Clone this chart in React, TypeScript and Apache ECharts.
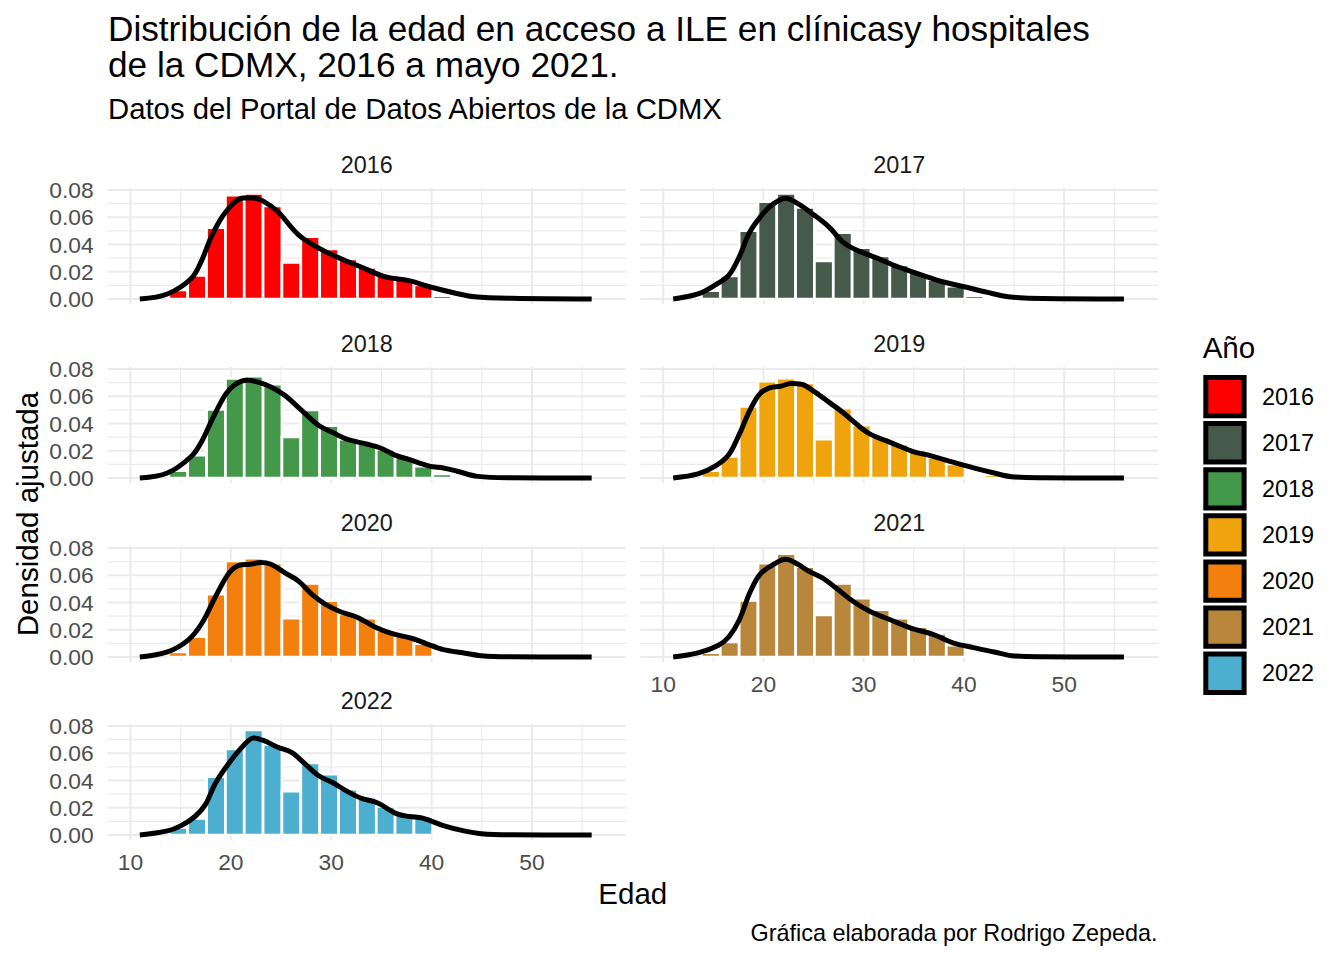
import React, { useEffect, useRef } from "react";
import * as echarts from "echarts";

// ---------- data ----------
const years = ["2016", "2017", "2018", "2019", "2020", "2021", "2022"];
const yearColors = ["#FF0000", "#465A4B", "#43984A", "#EFA30D", "#F3800E", "#B8873B", "#4DAFCF"];

// histogram bin centres (age) and bin width
const binCenters = [14.76, 16.64, 18.52, 20.40, 22.27, 24.15, 26.03, 27.91, 29.79, 31.67, 33.55, 35.43, 37.30, 39.18, 41.06, 42.94, 44.82];
const binWidth = 1.879;

const hist2016 = [0.0066, 0.0174, 0.0524, 0.0763, 0.0776, 0.0683, 0.0269, 0.0457, 0.0367, 0.0294, 0.0232, 0.0172, 0.0144, 0.0103, 0.0024, 0.002, 0.0008];
const hist2017 = [0.0061, 0.0169, 0.0502, 0.0714, 0.0776, 0.0673, 0.0279, 0.0487, 0.0377, 0.0316, 0.025, 0.0193, 0.0144, 0.0095, 0.0024, 0.002, 0.0008];
const hist2018 = [0.0054, 0.0168, 0.0503, 0.0731, 0.0748, 0.0689, 0.0302, 0.050, 0.0384, 0.0285, 0.026, 0.021, 0.0149, 0.0087, 0.003, 0.002, 0.0005];
const hist2019 = [0.0054, 0.0159, 0.0525, 0.0711, 0.0733, 0.0698, 0.0285, 0.0513, 0.0389, 0.0302, 0.0248, 0.0193, 0.0154, 0.0104, 0.0017, 0.0025, 0.001];
const hist2020 = [0.0037, 0.0149, 0.0461, 0.0706, 0.0726, 0.0689, 0.0285, 0.054, 0.0414, 0.0317, 0.0285, 0.0198, 0.0161, 0.0099, 0.0012, 0.0017, 0.0008];
const hist2021 = [0.0032, 0.0111, 0.0416, 0.0689, 0.0758, 0.0664, 0.031, 0.054, 0.0433, 0.0347, 0.0285, 0.0223, 0.0173, 0.0087, 0.0017, 0.0015, 0.0007];
const hist2022 = [0.0055, 0.0122, 0.0428, 0.0633, 0.0772, 0.0665, 0.0322, 0.053, 0.0446, 0.0336, 0.0278, 0.021, 0.0149, 0.0136, 0.002, 0.0018, 0.0008];

// density curves (age, density)
const densAge2016 = [10.93, 13.68, 16.08, 17.11, 18.14, 19.52, 21.24, 22.27, 23.30, 24.67, 26.74, 28.80, 30.86, 32.92, 35.33, 37.73, 39.79, 42.20, 44.26, 48.04, 55.95];
const dens2016 = [0, 0.0037, 0.0153, 0.0286, 0.0471, 0.0642, 0.0741, 0.0741, 0.0715, 0.0642, 0.0471, 0.0372, 0.0299, 0.0237, 0.0164, 0.0135, 0.009, 0.0046, 0.0017, 0.0005, 0];

const densAge2017 = [11.0, 13.47, 15.19, 16.56, 17.59, 18.63, 20.0, 21.03, 22.23, 23.44, 24.81, 26.53, 27.90, 29.28, 31.34, 33.40, 35.81, 37.87, 40.27, 42.34, 44.40, 47.84, 55.96];
const dens2017 = [0, 0.0037, 0.0103, 0.0176, 0.031, 0.049, 0.063, 0.070, 0.074, 0.070, 0.063, 0.053, 0.042, 0.036, 0.030, 0.0237, 0.0176, 0.0127, 0.0086, 0.0049, 0.0017, 0.0003, 0];

const densAge2018 = [10.93, 13.68, 16.08, 17.11, 18.14, 19.52, 20.55, 21.58, 22.61, 23.99, 25.36, 27.08, 28.80, 30.17, 31.55, 33.61, 34.98, 36.36, 37.73, 39.79, 41.17, 42.54, 44.60, 48.04, 55.95];
const dens2018 = [0, 0.0037, 0.016, 0.027, 0.043, 0.062, 0.0693, 0.0718, 0.0706, 0.0669, 0.0607, 0.0495, 0.0384, 0.0334, 0.0285, 0.0248, 0.0218, 0.0168, 0.0136, 0.0087, 0.0074, 0.005, 0.0012, 0.0002, 0];

const densAge2019 = [11.0, 13.47, 15.19, 16.56, 17.59, 18.63, 19.66, 20.69, 21.72, 22.75, 23.78, 25.15, 26.53, 27.90, 29.28, 30.65, 32.71, 34.78, 36.84, 38.90, 40.96, 43.02, 44.74, 47.84, 55.96];
const dens2019 = [0, 0.003, 0.0087, 0.0173, 0.032, 0.0495, 0.062, 0.0664, 0.0674, 0.0693, 0.0689, 0.063, 0.0557, 0.0483, 0.0396, 0.0322, 0.026, 0.0198, 0.0161, 0.0116, 0.0074, 0.0037, 0.001, 0.0002, 0];

const densAge2020 = [10.93, 13.68, 15.74, 17.11, 18.49, 19.86, 20.89, 21.92, 22.96, 23.99, 25.36, 26.74, 28.11, 29.48, 30.86, 32.58, 34.30, 36.01, 38.08, 39.45, 41.17, 43.23, 44.95, 48.04, 55.95];
const dens2020 = [0, 0.0037, 0.0124, 0.0248, 0.0446, 0.062, 0.0674, 0.0681, 0.0693, 0.0681, 0.062, 0.0557, 0.0458, 0.0384, 0.0334, 0.0292, 0.0223, 0.0173, 0.0136, 0.0099, 0.0054, 0.003, 0.001, 0.0002, 0];

const densAge2021 = [11.0, 13.47, 15.53, 16.56, 17.59, 18.63, 19.66, 21.03, 22.23, 23.44, 24.47, 25.84, 27.22, 28.93, 30.65, 32.71, 34.78, 36.84, 38.90, 40.96, 43.02, 44.74, 47.84, 55.96];
const dens2021 = [0, 0.003, 0.0087, 0.0149, 0.0272, 0.047, 0.0607, 0.0681, 0.0718, 0.0681, 0.0632, 0.0582, 0.0508, 0.0409, 0.0334, 0.0272, 0.021, 0.0168, 0.0104, 0.0069, 0.0037, 0.001, 0.0002, 0];

const densAge2022 = [10.93, 13.68, 15.05, 16.43, 17.46, 18.49, 19.86, 21.24, 22.27, 23.30, 24.67, 26.05, 27.42, 28.80, 30.17, 31.55, 32.92, 34.64, 36.36, 37.73, 39.11, 41.17, 43.23, 44.95, 48.04, 55.95];
const dens2022 = [0, 0.003, 0.0069, 0.0136, 0.0223, 0.0384, 0.0533, 0.0656, 0.0713, 0.0693, 0.0644, 0.0607, 0.052, 0.0433, 0.0384, 0.0322, 0.0272, 0.0235, 0.0161, 0.0136, 0.0124, 0.0069, 0.003, 0.001, 0.0002, 0];

const histByYear = [hist2016, hist2017, hist2018, hist2019, hist2020, hist2021, hist2022];
const densAgeByYear = [densAge2016, densAge2017, densAge2018, densAge2019, densAge2020, densAge2021, densAge2022];
const densByYear = [dens2016, dens2017, dens2018, dens2019, dens2020, dens2021, dens2022];

// gridline / tick values
const xMajorTicks = [10, 20, 30, 40, 50];
const xMinorTicks = [15, 25, 35, 45, 55];
const yMajorTicks = [0, 0.02, 0.04, 0.06, 0.08];
const yMinorTicks = [0.01, 0.03, 0.05, 0.07];

// ---------- layout ----------
const FONT = '"Liberation Sans", Arial, Helvetica, sans-serif';
const X_MIN = 7.72;
const X_MAX = 59.36;
const Y_MIN = -0.00388;
const Y_MAX = 0.0815;
const colLeft = [107.6, 640.3];
const colWidth = [518.3, 517.7];
const rowTop = [188, 367, 546, 724];
const panelH = 116.3;
const TICK_SIZE = 22.8;

function buildOption() {
  const grids: any[] = [];
  const xAxes: any[] = [];
  const yAxes: any[] = [];
  const series: any[] = [];
  const graphics: any[] = [];

  const gridData: any[] = [];
  xMajorTicks.forEach((v) => gridData.push([v, 0]));
  xMinorTicks.forEach((v) => gridData.push([v, 1]));
  yMajorTicks.forEach((v) => gridData.push([v, 2]));
  yMinorTicks.forEach((v) => gridData.push([v, 3]));

  years.forEach((yr, i) => {
    const row = Math.floor(i / 2);
    const col = i % 2;
    const left = colLeft[col];
    const width = colWidth[col];
    const top = rowTop[row];
    grids.push({ left, top, width, height: panelH, containLabel: false });
    const showX = i === 5 || i === 6;
    const showY = col === 0;
    xAxes.push({
      gridIndex: i,
      type: "value",
      min: X_MIN,
      max: X_MAX,
      axisLine: { show: false },
      axisTick: { show: false },
      splitLine: { show: false },
      axisLabel: {
        show: showX,
        showMinLabel: false,
        showMaxLabel: false,
        color: "#4D4D4D",
        fontSize: TICK_SIZE,
        fontFamily: FONT,
        margin: 10.5,
      },
    });
    yAxes.push({
      gridIndex: i,
      type: "value",
      min: Y_MIN,
      max: Y_MAX,
      axisLine: { show: false },
      axisTick: { show: false },
      splitLine: { show: false },
      axisLabel: {
        show: showY,
        showMinLabel: false,
        showMaxLabel: false,
        color: "#4D4D4D",
        fontSize: TICK_SIZE,
        fontFamily: FONT,
        margin: 14,
        formatter: (v: number) => v.toFixed(2),
      },
    });

    // gridlines
    series.push({
      type: "custom",
      name: "grid" + yr,
      xAxisIndex: i,
      yAxisIndex: i,
      z: 1,
      silent: true,
      data: gridData,
      renderItem: (params: any, api: any) => {
        const v = api.value(0);
        const kind = api.value(1);
        const cs = params.coordSys;
        if (kind < 2) {
          const px = api.coord([v, 0])[0];
          return {
            type: "line",
            shape: { x1: px, y1: cs.y, x2: px, y2: cs.y + cs.height },
            style: { stroke: "#EBEBEB", lineWidth: kind === 0 ? 2 : 1.1 },
          };
        }
        const py = api.coord([20, v])[1];
        return {
          type: "line",
          shape: { x1: cs.x, y1: py, x2: cs.x + cs.width, y2: py },
          style: { stroke: "#EBEBEB", lineWidth: kind === 2 ? 2 : 1.1 },
        };
      },
    });

    // histogram bars
    series.push({
      type: "custom",
      name: yr,
      xAxisIndex: i,
      yAxisIndex: i,
      z: 2,
      itemStyle: { color: yearColors[i] },
      data: binCenters.map((c, k) => [c, histByYear[i][k]]),
      renderItem: (params: any, api: any) => {
        const c = api.value(0);
        const v = api.value(1);
        const p0 = api.coord([c - binWidth / 2, v]);
        const p1 = api.coord([c + binWidth / 2, 0]);
        return {
          type: "rect",
          shape: { x: p0[0], y: p0[1], width: p1[0] - p0[0], height: p1[1] - p0[1] },
          style: { fill: api.visual("color"), stroke: "#FFFFFF", lineWidth: 2.7 },
        };
      },
    });

    // density line
    series.push({
      type: "line",
      name: "dens" + yr,
      xAxisIndex: i,
      yAxisIndex: i,
      z: 3,
      silent: true,
      showSymbol: false,
      smooth: 0.35,
      data: densAgeByYear[i].map((a, k) => [a, densByYear[i][k]]),
      lineStyle: { color: "#000000", width: 5, cap: "butt", join: "round" },
      itemStyle: { color: "#000000" },
    });

    // strip label
    graphics.push({
      type: "text",
      style: {
        text: yr,
        x: left + width / 2,
        y: top - 23.4,
        font: `23.4px ${FONT}`,
        fill: "#1A1A1A",
        textAlign: "center",
        align: "center",
        textVerticalAlign: "middle",
        verticalAlign: "middle",
      },
    });
  });

  const txt = (text: string, x: number, y: number, size: number, align: string, color = "#000000") => ({
    type: "text",
    style: {
      text,
      x,
      y,
      font: `${size}px ${FONT}`,
      fill: color,
      textAlign: align,
      align,
      textVerticalAlign: "middle",
      verticalAlign: "middle",
    },
  });

  graphics.push(txt("Distribución de la edad en acceso a ILE en clínicasy hospitales", 108, 28.5, 35.2, "left"));
  graphics.push(txt("de la CDMX, 2016 a mayo 2021.", 108, 64.5, 35.2, "left"));
  graphics.push(txt("Datos del Portal de Datos Abiertos de la CDMX", 108, 108.8, 29.3, "left"));
  graphics.push(txt("Edad", 632.8, 893.1, 29.5, "center"));
  graphics.push(txt("Año", 1202.7, 347, 29.5, "left"));
  graphics.push(txt("Gráfica elaborada por Rodrigo Zepeda.", 1157.5, 933, 23.4, "right"));
  graphics.push({
    type: "text",
    x: 27,
    y: 514,
    rotation: Math.PI / 2,
    style: {
      text: "Densidad ajustada",
      x: 0,
      y: 0,
      font: `29.5px ${FONT}`,
      fill: "#000000",
      textAlign: "center",
      align: "center",
      textVerticalAlign: "middle",
      verticalAlign: "middle",
    },
  });

  return {
    animation: false,
    backgroundColor: "#FFFFFF",
    textStyle: { fontFamily: FONT },
    grid: grids,
    xAxis: xAxes,
    yAxis: yAxes,
    legend: {
      data: years,
      orient: "vertical",
      left: 1203.3,
      top: 375,
      padding: 0,
      itemWidth: 38.3,
      itemHeight: 38.3,
      itemGap: 2.8,
      icon: "rect",
      selectedMode: false,
      itemStyle: { borderColor: "#000000", borderWidth: 5 },
      textStyle: { fontSize: 23.4, color: "#000000", fontFamily: FONT, padding: [0, 0, 0, 13] },
    },
    series,
    graphic: graphics,
  };
}

export default function App() {
  const ref = useRef<HTMLDivElement>(null);
  useEffect(() => {
    if (!ref.current) return;
    const chart = echarts.init(ref.current, undefined, { renderer: "svg" });
    chart.setOption(buildOption() as any);
    return () => chart.dispose();
  }, []);
  return (
    <div
      ref={ref}
      style={{ position: "absolute", left: 0, top: 0, width: 1344, height: 960, background: "#FFFFFF" }}
    />
  );
}
